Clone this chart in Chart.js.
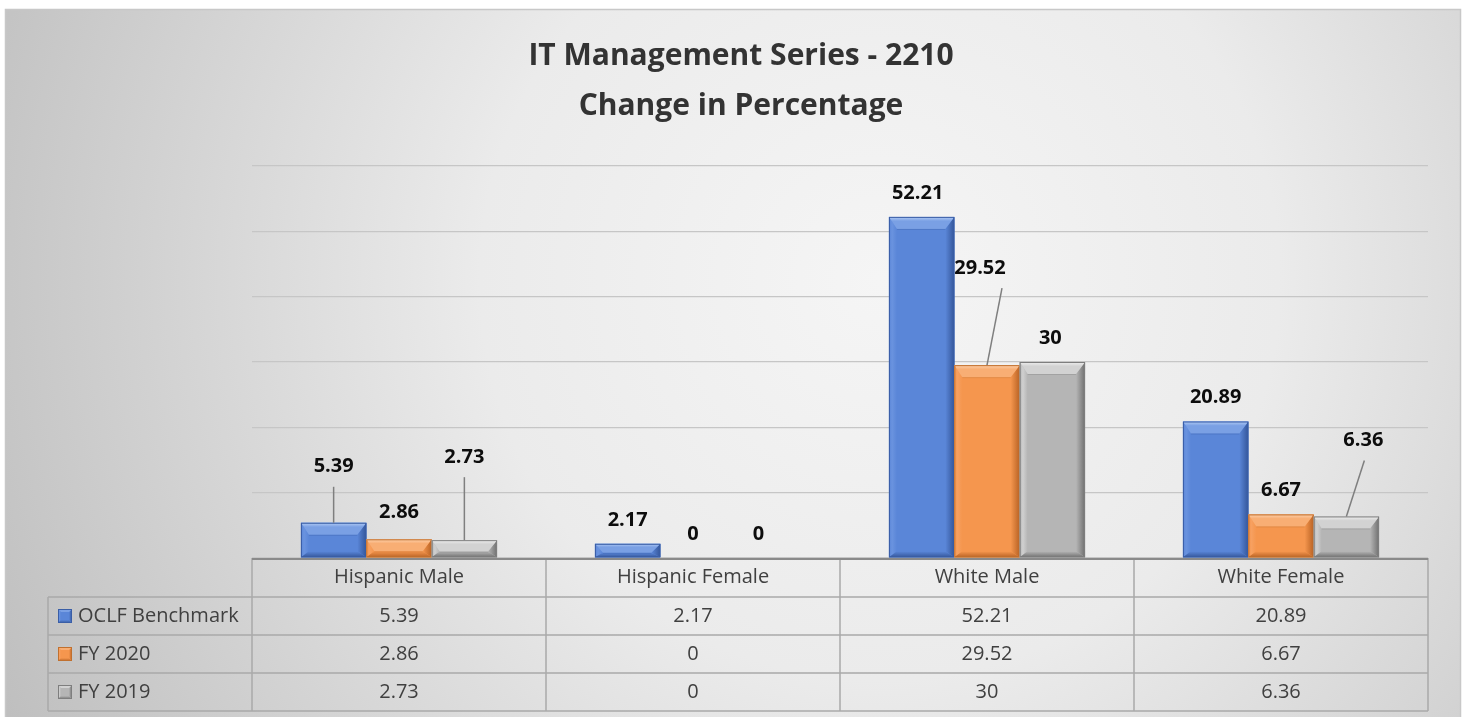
<!DOCTYPE html>
<html>
<head>
<meta charset="utf-8">
<title>IT Management Series - 2210</title>
<script src="https://cdn.jsdelivr.net/npm/chart.js@4"></script>
<style>
  html, body { margin: 0; padding: 0; background: #fff; }
  #wrap { width: 1463px; height: 717px; }
</style>
</head>
<body>
<div id="wrap"><canvas id="canvasChart" width="1463" height="717"></canvas></div>
<script>
// data
var categories = ['Hispanic Male', 'Hispanic Female', 'White Male', 'White Female'];
var seriesNames = ['OCLF Benchmark', 'FY 2020', 'FY 2019'];
var oclfBenchmark = [5.39, 2.17, 52.21, 20.89];
var fy2020 = [2.86, 0, 29.52, 6.67];
var fy2019 = [2.73, 0, 30, 6.36];
var yTicks = [0, 10, 20, 30, 40, 50, 60];

var titleLines = ['IT Management Series - 2210', 'Change in Percentage'];

// bar colours (face + bevel shades)
var barColors = [
	{ face: '#5a86d8', light: '#b2cbf4', mid: '#7aa0e4', side: '#6a93df', dark: '#34569a', edge: '#3a5ea6' },
	{ face: '#f5964e', light: '#fdd0ab', mid: '#f8ae74', side: '#f7a060', dark: '#b86224', edge: '#c0702f' },
	{ face: '#b5b5b5', light: '#f0f0f0', mid: '#d2d2d2', side: '#d0d0d0', dark: '#6f6f6f', edge: '#7e7e7e' }
];

// manual label nudges [dx, dy, leader start dx or null], per series then category
var labelNudge = [
	[[0, -32, 0], [0, 0, null], [-4, 0, null], [0, 0, null]],
	[[0, -3, null], [0, 0, null], [-7, -73, 22], [0, 0, null]],
	[[0, -59, 0], [0, 0, null], [-2, 0, null], [17, -52, 1]]
];

var FONT = '"Open Sans", "DejaVu Sans", sans-serif';

function poly(ctx, pts, fill) {
	ctx.beginPath();
	ctx.moveTo(pts[0][0], pts[0][1]);
	for (var i = 1; i < pts.length; i++) ctx.lineTo(pts[i][0], pts[i][1]);
	ctx.closePath();
	ctx.fillStyle = fill;
	ctx.fill();
}

// bevelled box, like the office "angle" bevel
function bevelBox(ctx, x0, x1, yTop, yBot, c, t, s, r, b) {
	var h = yBot - yTop;
	if (h < 0.5) return;
	if (t + b > h) { var k = h / (t + b); t *= k; b *= k; }
	ctx.save();
	ctx.fillStyle = c.face;
	ctx.fillRect(x0, yTop, x1 - x0, h);

	var gLeft = ctx.createLinearGradient(x0, 0, x0 + s, 0);
	gLeft.addColorStop(0, c.face);
	gLeft.addColorStop(0.4, c.side);
	gLeft.addColorStop(1, c.face);
	poly(ctx, [[x0, yTop], [x0 + s, yTop + t], [x0 + s, yBot - b], [x0, yBot]], gLeft);

	var gRight = ctx.createLinearGradient(x1 - r, 0, x1, 0);
	gRight.addColorStop(0, c.face);
	gRight.addColorStop(1, c.dark);
	poly(ctx, [[x1, yTop], [x1 - r, yTop + t], [x1 - r, yBot - b], [x1, yBot]], gRight);

	var gBot = ctx.createLinearGradient(0, yBot - b, 0, yBot);
	gBot.addColorStop(0, c.face);
	gBot.addColorStop(1, c.dark);
	poly(ctx, [[x0, yBot], [x0 + s, yBot - b], [x1 - r, yBot - b], [x1, yBot]], gBot);

	var gTop = ctx.createLinearGradient(0, yTop, 0, yTop + t);
	gTop.addColorStop(0, c.light);
	gTop.addColorStop(0.35, c.mid);
	gTop.addColorStop(1, c.mid);
	poly(ctx, [[x0, yTop], [x1, yTop], [x1 - r, yTop + t], [x0 + s, yTop + t]], gTop);

	// soft crease under the top bevel
	if (t > 4) {
		ctx.strokeStyle = c.edge;
		ctx.globalAlpha = 0.35;
		ctx.lineWidth = 1;
		ctx.beginPath();
		ctx.moveTo(x0 + s, yTop + t + 0.5);
		ctx.lineTo(x1 - r, yTop + t + 0.5);
		ctx.stroke();
		ctx.globalAlpha = 1;
	}

	ctx.strokeStyle = c.edge;
	ctx.lineWidth = 1;
	ctx.strokeRect(x0 + 0.5, yTop + 0.5, x1 - x0 - 1, h - 1);
	ctx.restore();
}

// background + frame + title
var backdrop = {
	id: 'backdrop',
	beforeDraw: function(chart) {
		var ctx = chart.ctx;
		ctx.save();
		ctx.fillStyle = '#ffffff';
		ctx.fillRect(0, 0, chart.width, chart.height);
		var g = ctx.createRadialGradient(880, 280, 0, 880, 280, 1000);
		g.addColorStop(0, '#f5f5f5');
		g.addColorStop(0.4, '#ebebeb');
		g.addColorStop(1, '#bdbdbd');
		ctx.fillStyle = g;
		ctx.fillRect(5, 9, 1456, 708);
		ctx.strokeStyle = '#c8c8c8';
		ctx.lineWidth = 1.5;
		ctx.strokeRect(5.5, 9.5, 1455, 712);

		ctx.fillStyle = '#333333';
		ctx.font = 'bold 30px ' + FONT;
		ctx.textAlign = 'center';
		ctx.textBaseline = 'middle';
		ctx.fillText(titleLines[0], 741, 56);
		ctx.fillText(titleLines[1], 741, 106);
		ctx.restore();
	}
};

// bevels, data labels, leader lines
var barDecor = {
	id: 'barDecor',
	afterDatasetsDraw: function(chart) {
		var ctx = chart.ctx;
		chart.data.datasets.forEach(function(ds, di) {
			var meta = chart.getDatasetMeta(di);
			meta.data.forEach(function(bar, ci) {
				var p = bar.getProps(['x', 'y', 'base', 'width'], true);
				var x0 = p.x - p.width / 2, x1 = p.x + p.width / 2;
				bevelBox(ctx, x0, x1, p.y, p.base, barColors[di], 12, 8, 9, 6);
			});
		});
		chart.data.datasets.forEach(function(ds, di) {
			var meta = chart.getDatasetMeta(di);
			meta.data.forEach(function(bar, ci) {
				var p = bar.getProps(['x', 'y'], true);
				var n = labelNudge[di][ci];
				var lx = p.x + n[0], ly = p.y - 24 + n[1];
				ctx.save();
				if (n[2] !== null) {
					ctx.strokeStyle = '#7f7f7f';
					ctx.lineWidth = 1.5;
					ctx.beginPath();
					ctx.moveTo(lx + n[2], ly + 20);
					ctx.lineTo(p.x, p.y);
					ctx.stroke();
				}
				ctx.fillStyle = '#0d0d0d';
				ctx.font = 'bold 20px ' + FONT;
				ctx.textAlign = 'center';
				ctx.textBaseline = 'middle';
				ctx.fillText(String(ds.data[ci]), lx, ly);
				ctx.restore();
			});
		});
	}
};

// data table under the plot
var dataTable = {
	id: 'dataTable',
	afterDraw: function(chart) {
		var ctx = chart.ctx;
		var area = chart.chartArea;
		var xs = chart.scales.x;
		var headH = 39, rowH = 38, leftX = 48;
		var top = area.bottom;
		var bottom = top + headH + rowH * seriesNames.length;
		var half = (xs.getPixelForValue(1) - xs.getPixelForValue(0)) / 2;
		var colEdges = [area.left];
		categories.forEach(function(c, i) {
			colEdges.push(xs.getPixelForValue(i) + half);
		});

		ctx.save();
		ctx.strokeStyle = '#a9a9a9';
		ctx.lineWidth = 1.5;
		ctx.beginPath();
		// verticals
		colEdges.forEach(function(x) {
			ctx.moveTo(x, top);
			ctx.lineTo(x, bottom);
		});
		ctx.moveTo(leftX, top + headH);
		ctx.lineTo(leftX, bottom);
		// horizontals
		for (var r = 0; r <= seriesNames.length; r++) {
			var y = top + headH + rowH * r;
			ctx.moveTo(leftX, y);
			ctx.lineTo(area.right, y);
		}
		ctx.stroke();

		// axis line on top of the table
		ctx.strokeStyle = '#8a8a8a';
		ctx.lineWidth = 2;
		ctx.beginPath();
		ctx.moveTo(area.left, top + 1);
		ctx.lineTo(area.right, top + 1);
		ctx.stroke();

		ctx.fillStyle = '#404040';
		ctx.font = '20px ' + FONT;
		ctx.textBaseline = 'middle';
		ctx.textAlign = 'center';
		categories.forEach(function(c, i) {
			ctx.fillText(c, xs.getPixelForValue(i), top + headH / 2);
		});
		chart.data.datasets.forEach(function(ds, di) {
			var yMid = top + headH + rowH * di + rowH / 2;
			ds.data.forEach(function(v, ci) {
				ctx.fillStyle = '#404040';
				ctx.textAlign = 'center';
				ctx.fillText(String(v), xs.getPixelForValue(ci), yMid);
			});
			bevelBox(ctx, 58, 72, yMid - 7, yMid + 7, barColors[di], 3, 3, 3, 3);
			ctx.fillStyle = '#404040';
			ctx.textAlign = 'left';
			ctx.fillText(ds.label, 78, yMid);
		});
		ctx.restore();
	}
};

var config = {
	type: 'bar',
	data: {
		labels: categories,
		datasets: [
			{ label: seriesNames[0], data: oclfBenchmark, backgroundColor: barColors[0].face },
			{ label: seriesNames[1], data: fy2020, backgroundColor: barColors[1].face },
			{ label: seriesNames[2], data: fy2019, backgroundColor: barColors[2].face }
		]
	},
	options: {
		responsive: false,
		animation: false,
		layout: { padding: { left: 252, right: 35, top: 166, bottom: 159 } },
		datasets: { bar: { categoryPercentage: 0.667, barPercentage: 1.0, borderWidth: 0 } },
		plugins: {
			legend: { display: false },
			title: { display: false },
			tooltip: { enabled: false }
		},
		scales: {
			x: { display: false },
			y: {
				display: true,
				min: yTicks[0],
				max: yTicks[yTicks.length - 1],
				afterBuildTicks: function(axis) {
					axis.ticks = yTicks.map(function(v) { return { value: v }; });
				},
				afterFit: function(axis) { axis.width = 0; },
				ticks: { display: false },
				border: { display: false },
				grid: { color: '#c6c6c6', lineWidth: 1.3, drawTicks: false }
			}
		}
	},
	plugins: [backdrop, barDecor, dataTable]
};

window.myBar = new Chart(document.getElementById('canvasChart'), config);
</script>
</body>
</html>
